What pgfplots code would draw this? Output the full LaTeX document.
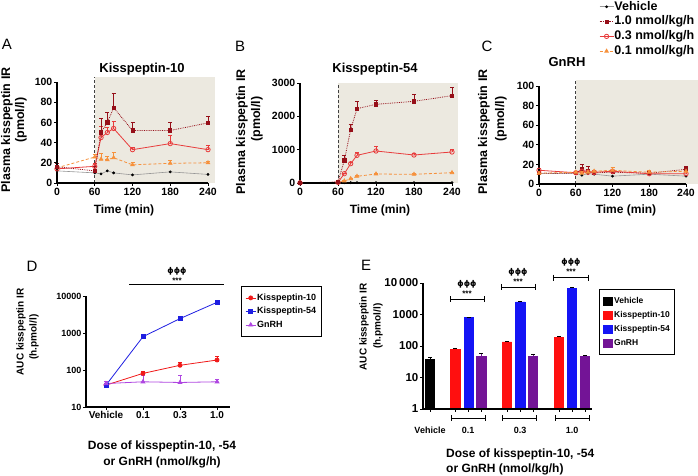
\documentclass[border=0pt]{standalone}
\usepackage{fontspec}
\setmainfont{Liberation Sans}
\newfontfamily\dv{DejaVu Sans}
\usepackage{pgfplots}
\pgfplotsset{compat=1.18}
\newcommand\fs[1]{\fontsize{#1}{#1}\selectfont\bfseries}
\definecolor{bgc}{RGB}{236,233,224}
\definecolor{dk}{RGB}{150,15,25}
\definecolor{rd}{RGB}{232,60,60}
\definecolor{org}{RGB}{246,145,60}
\definecolor{vg}{RGB}{150,150,150}
\definecolor{kr}{RGB}{240,25,25}
\definecolor{kb}{RGB}{30,30,225}
\definecolor{kp}{RGB}{175,70,225}
\definecolor{br}{RGB}{255,15,15}
\definecolor{bb}{RGB}{20,20,245}
\definecolor{bp}{RGB}{115,20,150}
\pgfplotsset{
 gp/.style={scale only axis, axis lines=left, axis line style={-, line width=1.1pt},
   tick style={black, line width=0.9pt}, tick align=outside, major tick length=3pt,
   /pgf/number format/assume math mode=true, /pgf/number format/1000 sep={},
   scaled ticks=false, clip=false, axis on top,
   xticklabel style={inner sep=1.5pt}, yticklabel style={inner sep=1.5pt}},
 eb/.style={error bars/y dir=plus, error bars/y explicit,
   error bars/error bar style={solid, line width=0.7pt},
   error bars/error mark options={rotate=90, mark size=2pt, line width=0.7pt, solid}},
 sV/.style={vg, line width=0.6pt, mark=*, mark size=1.1pt, mark options={black, fill=black}},
 s1/.style={dk, densely dotted, line width=0.8pt, mark=square*, mark size=1.6pt, mark options={solid, fill=dk}},
 s3/.style={rd, line width=0.8pt, mark=o, mark size=2.2pt, mark options={solid, fill=white}},
 s01/.style={org, densely dashed, line width=0.8pt, mark=triangle*, mark size=2pt, mark options={solid, fill=org}},
}
\begin{document}
\begin{tikzpicture}
\path[use as bounding box] (0pt,0pt) rectangle (698pt,476pt);
% ---------------- Panel A
\begin{axis}[gp, at={(57pt,293pt)}, anchor=south west, width=151pt, height=101pt,
  xmin=0,xmax=240,ymin=0,ymax=100, xtick={0,60,120,180,240}, ytick={0,20,40,60,80,100},
  ticklabel style={font=\fs{10.5}}]
\fill[bgc] (60,0) rectangle (251,105);
\draw[black!75, densely dashed, line width=0.8pt] (60,0) -- (60,105);
\addplot[sV] table[row sep=\\]{x y\\0 12\\60 10\\70 9\\80 12\\90 10\\120 8\\180 11\\240 8.5\\};
\addplot[s01, eb] table[x=x,y=y,y error=e,row sep=\\]{x y e\\0 15 2\\60 25.7 3\\70 23.5 6\\80 23 3\\90 25 5\\120 18 2\\180 19.5 3\\240 20 1.5\\};
\addplot[s3, eb] table[x=x,y=y,y error=e,row sep=\\]{x y e\\0 14 2\\60 16.5 3\\70 45 11\\80 50 5\\90 54 7\\120 33 2\\180 39 8\\240 33 4\\};
\addplot[s1, eb] table[x=x,y=y,y error=e,row sep=\\]{x y e\\0 16 3\\60 12 4\\70 50 14\\80 60 10\\90 74.5 14\\120 52 8\\180 52 8\\240 59.5 6.5\\};
\end{axis}
% ---------------- Panel B
\begin{axis}[gp, at={(300pt,293pt)}, anchor=south west, width=152pt, height=100pt,
  xmin=0,xmax=240,ymin=0,ymax=3000, xtick={0,60,120,180,240}, ytick={0,1000,2000,3000},
  ticklabel style={font=\fs{10.5}}]
\fill[bgc] (60,0) rectangle (249,3000);
\draw[black!75, densely dashed, line width=0.8pt] (60,0) -- (60,3000);
\addplot[sV] table[row sep=\\]{x y\\0 10\\60 10\\70 10\\80 10\\90 10\\120 10\\180 10\\240 10\\};
\addplot[s01, eb] table[x=x,y=y,y error=e,row sep=\\]{x y e\\0 5 0\\60 15 0\\70 60 10\\80 130 15\\90 200 15\\120 270 15\\180 260 15\\240 310 20\\};
\addplot[s3, eb] table[x=x,y=y,y error=e,row sep=\\]{x y e\\0 5 0\\60 20 0\\70 280 20\\80 580 40\\90 830 90\\120 960 130\\180 840 40\\240 930 70\\};
\addplot[s1, eb] table[x=x,y=y,y error=e,row sep=\\]{x y e\\0 5 0\\60 30 0\\70 680 150\\80 1600 170\\90 2230 230\\120 2360 120\\180 2450 210\\240 2620 250\\};
\end{axis}
% ---------------- Panel C
\begin{axis}[gp, at={(539pt,292pt)}, anchor=south west, width=147pt, height=98pt,
  xmin=0,xmax=240,ymin=0,ymax=100, xtick={0,60,120,180,240}, ytick={0,20,40,60,80,100},
  ticklabel style={font=\fs{10.5}},
  legend style={at={(0.408,1.874)}, anchor=north west, draw=none, fill=none, font=\fs{12.5},
    inner sep=0pt, row sep=2.3pt, nodes={inner sep=0.5pt, text height=9pt, text depth=2.5pt}},
  legend cell align=left,
  legend image code/.code={\draw[mark repeat=2,mark phase=2,#1] plot coordinates {(0pt,0pt) (7pt,0pt) (14pt,0pt)};}]
\fill[bgc] (60,0) rectangle (262,106);
\draw[black!75, densely dashed, line width=0.8pt] (60,0) -- (60,106);
\addplot[sV] table[row sep=\\]{x y\\0 10.5\\60 11\\70 9\\80 10.5\\90 10\\120 8\\180 10\\240 8\\};
\addplot[s1, eb] table[x=x,y=y,y error=e,row sep=\\]{x y e\\0 11 1\\60 11 2\\70 15 5\\80 13 5\\90 11.5 2\\120 12 2\\180 11 2\\240 15 3\\};
\addplot[s3, eb] table[x=x,y=y,y error=e,row sep=\\]{x y e\\0 14 2\\60 11.5 1\\70 13 3\\80 12 2\\90 12 2\\120 13 4\\180 10.5 2\\240 10.5 2\\};
\addplot[s01, eb] table[x=x,y=y,y error=e,row sep=\\]{x y e\\0 11 1\\60 12 1\\70 11 2\\80 12 2\\90 13 1\\120 14 3\\180 12 2\\240 13 2\\};
\legend{Vehicle,1.0 nmol/kg/h,0.3 nmol/kg/h,0.1 nmol/kg/h}
\end{axis}
% ---------------- Panel D
\begin{axis}[gp, at={(86pt,69pt)}, anchor=south west, width=144pt, height=111pt,
  ymode=log, ymin=10, ymax=10000, ytick={10,100,1000,10000}, yticklabels={10,100,1000,10000}, yminorticks=false,
  xmin=-0.54, xmax=3.35, xtick={0,1,2,3}, xticklabels={Vehicle,0.1,0.3,1.0},
  xticklabel style={font=\fs{10}}, yticklabel style={font=\fs{9}},
  legend style={at={(1.076,1.09)}, anchor=north west, draw=black, line width=0.8pt, font=\fs{9},
    inner xsep=4pt, inner ysep=6pt, row sep=2.5pt, nodes={inner sep=1pt, text height=7pt, text depth=2pt}},
  legend cell align=left,
  legend image code/.code={\draw[mark repeat=2,mark phase=2,#1] plot coordinates {(0pt,0pt) (5pt,0pt) (10pt,0pt)};}]
\addplot[kr, line width=0.8pt, mark=*, mark size=2pt, eb] table[x=x,y=y,y error=e,row sep=\\]{x y e\\0 39 3\\1 81 9\\2 134 24\\3 186 48\\};
\addplot[kb, line width=0.8pt, mark=square*, mark size=2pt, eb] table[x=x,y=y,y error=e,row sep=\\]{x y e\\0 39 2\\1 795 85\\2 2450 150\\3 6750 600\\};
\addplot[kp, line width=0.8pt, mark=triangle*, mark size=2.2pt, eb] table[x=x,y=y,y error=e,row sep=\\]{x y e\\0 43 7\\1 48 25\\2 46 24\\3 48 9\\};
\legend{Kisspeptin-10,Kisspeptin-54,GnRH}
\end{axis}
% ---------------- Panel E
\begin{axis}[gp, at={(423pt,67pt)}, anchor=south west, width=169pt, height=126pt,
  ymode=log, ymin=1, ymax=10000, ytick={1,10,100,1000,10000}, yticklabels={1,10,100,1000,10\,000}, yminorticks=false,
  xmin=423, xmax=592, xtick={430,455.3,468.7,481.3,507,520.3,533,559,572,585}, xticklabels={},
  yticklabel style={font=\fs{11.5}},
  legend style={at={(1.041,0.952)}, anchor=north west, draw=black, line width=0.8pt, font=\fs{8.5},
    inner xsep=4pt, inner ysep=6pt, row sep=3pt, nodes={inner sep=1pt, text height=7pt, text depth=2pt}},
  legend cell align=left,
  legend image code/.code={\fill[#1] (0pt,-4pt) rectangle (9pt,4pt);}]
\addplot[ybar, bar width=9.3, bar shift=0pt, fill=black, draw=black, eb] table[x=x,y=y,y error=e,row sep=\\]{x y e\\430 39 5\\};
\addplot[ybar, bar width=9.3, bar shift=0pt, fill=br, draw=br, eb] table[x=x,y=y,y error=e,row sep=\\]{x y e\\455.3 78 4\\507 134 6\\559 184 19\\};
\addplot[ybar, bar width=9.3, bar shift=0pt, fill=bb, draw=bb, eb] table[x=x,y=y,y error=e,row sep=\\]{x y e\\468.7 795 35\\520.3 2495 120\\572 6780 300\\};
\addplot[ybar, bar width=9.3, bar shift=0pt, fill=bp, draw=bp, eb] table[x=x,y=y,y error=e,row sep=\\]{x y e\\481.3 48 9\\533 47 9\\585 48 2\\};
\legend{Vehicle,Kisspeptin-10,Kisspeptin-54,GnRH}
\end{axis}
% ---------------- annotations (pixel coordinates, y downward)
\begin{scope}[x=1pt, y=-1pt, shift={(0pt,476pt)}]
\node[anchor=base, font=\fontsize{15}{15}\selectfont] at (7,50) {A};
\node[anchor=base, font=\fontsize{15}{15}\selectfont] at (240,52) {B};
\node[anchor=base, font=\fontsize{15}{15}\selectfont] at (487,52) {C};
\node[anchor=base, font=\fontsize{15}{15}\selectfont] at (32,272) {D};
\node[anchor=base, font=\fontsize{15}{15}\selectfont] at (366,271) {E};
\node[anchor=base, font=\fs{13}] at (142,73) {Kisspeptin-10};
\node[anchor=base, font=\fs{13}] at (375,73) {Kisspeptin-54};
\node[anchor=base, font=\fs{13}] at (567,67) {GnRH};
\node[rotate=90, font=\fs{12.5}] at (7,130) {Plasma kisspeptin IR};
\node[rotate=90, font=\fs{12.5}] at (21,120) {(pmol/l)};
\node[rotate=90, font=\fs{12.5}] at (242,132) {Plasma kisspeptin IR};
\node[rotate=90, font=\fs{12.5}] at (257,119) {(pmol/l)};
\node[rotate=90, font=\fs{12.5}] at (484,132) {Plasma kisspeptin IR};
\node[rotate=90, font=\fs{12.5}] at (501,119) {(pmol/l)};
\node[anchor=base, font=\fs{12}] at (124,214) {Time (min)};
\node[anchor=base, font=\fs{12}] at (380,214) {Time (min)};
\node[anchor=base, font=\fs{12}] at (626,214) {Time (min)};
% D
\node[rotate=90, font=\fs{10}] at (21,332) {AUC kisspeptin IR};
\node[rotate=90, font=\fs{10}] at (34,337) {(h.pmol/l)};
\node[anchor=base, font=\fs{12}] at (162,450) {Dose of kisspeptin-10, -54};
\node[anchor=base, font=\fs{12}] at (162,466) {or GnRH (nmol/kg/h)};
\draw[line width=0.8pt] (129,284) -- (224,284);
\node[font=\dv\bfseries\fontsize{8}{8}\selectfont] at (177,271) {ϕϕϕ};
\node[font=\fs{8}] at (177,280.5) {***};
% E
\node[rotate=90, font=\fs{10}] at (364,327) {AUC kisspeptin IR};
\node[rotate=90, font=\fs{10}] at (378,326) {(h.pmol/l)};
\node[anchor=base west, font=\fs{12}, inner sep=0pt] at (446,457.5) {Dose of kisspeptin-10, -54};
\node[anchor=base west, font=\fs{12}, inner sep=0pt] at (446,472.5) {or GnRH (nmol/kg/h)};
\foreach \a/\b/\y in {450/484.3/299.3, 501/535/287, 553.7/588.3/277.7, 451/485/418.3, 502.7/536.7/418.3, 555/589.3/418.3}{
  \draw[line width=0.8pt] (\a,\y) -- (\b,\y) (\a,\y-3) -- (\a,\y+3) (\b,\y-3) -- (\b,\y+3);
}
\node[font=\dv\bfseries\fontsize{8}{8}\selectfont] at (467,284) {ϕϕϕ};
\node[font=\fs{8}] at (467,294) {***};
\node[font=\dv\bfseries\fontsize{8}{8}\selectfont] at (518,272) {ϕϕϕ};
\node[font=\fs{8}] at (518,281.5) {***};
\node[font=\dv\bfseries\fontsize{8}{8}\selectfont] at (571,262) {ϕϕϕ};
\node[font=\fs{8}] at (571,271.5) {***};
\node[anchor=base, font=\fs{9}] at (430,434) {Vehicle};
\node[anchor=base, font=\fs{9}] at (468,434) {0.1};
\node[anchor=base, font=\fs{9}] at (520,434) {0.3};
\node[anchor=base, font=\fs{9}] at (572,434) {1.0};
\end{scope}
\end{tikzpicture}
\end{document}
